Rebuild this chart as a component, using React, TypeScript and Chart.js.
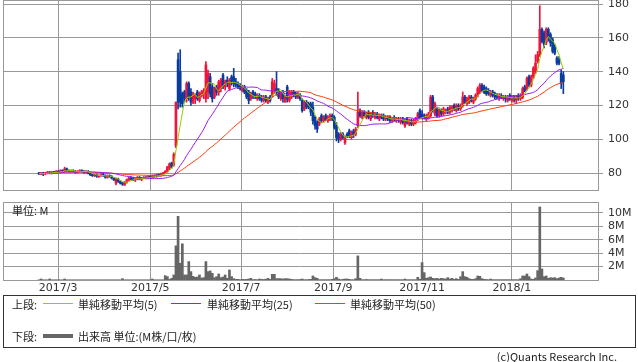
import React, { useEffect, useRef } from "react";
import { Chart, registerables } from "chart.js";
Chart.register(...registerables);

// ---------- data ----------
const monthLabels = ["2017/3", "2017/5", "2017/7", "2017/9", "2017/11", "2018/1"];
const monthPositions = [9, 52, 94.5, 137.5, 179, 221];
const priceTicks = [80, 100, 120, 140, 160, 180];
const volumeTicks = [2, 4, 6, 8, 10];
const maPeriods = [5, 25, 50];
const maLabels = ["単純移動平均(5)", "単純移動平均(25)", "単純移動平均(50)"];

const openPrices = [
  80, 79.5, 80, 79.5, 80, 80.5, 80, 80.5, 80.3, 81,
  80.5, 81.5, 81, 82.5, 81.5, 81, 81.5, 81, 80.5, 81,
  81.5, 81, 80.5, 81, 80, 79, 78.5, 79, 78, 78.5,
  79, 78.5, 77.5, 78.5, 78, 77, 74, 76.5, 75, 74,
  73, 74.5, 76, 77, 76.5, 76, 76.5, 77.5, 76.5, 77,
  77.5, 77, 78, 77.5, 78.5, 78, 79, 78.5, 79.5, 80,
  81, 83, 86, 85, 96, 147, 140, 127, 128, 124,
  133, 128, 122, 124, 128, 123, 126, 127, 124, 128,
  137, 131, 125, 131, 128, 130, 138, 131, 135, 130,
  137, 137, 134, 133, 132, 129, 131, 129, 128, 124,
  128, 127, 124, 126, 125, 123, 125, 122, 125, 126,
  129, 130, 129, 124, 128, 122, 131, 123, 125, 128,
  127, 125, 126, 123, 118, 122, 121, 121, 119, 113,
  110, 109, 114, 111, 114, 111, 112, 114, 113, 108,
  103, 100, 103, 98, 103, 105, 101, 105, 103, 108,
  117, 113, 116, 113, 116, 112, 116, 113, 115, 112,
  114, 114, 112, 113, 113, 111, 113, 111, 112, 110,
  112, 108, 112, 109, 111, 109, 110, 112, 117, 115,
  114, 112, 113, 114, 125, 115, 118, 114, 117, 115,
  116, 118, 116, 117, 120, 117, 120, 118, 120, 125,
  121, 122, 125, 122, 124, 126, 128, 132, 131, 130,
  129, 126, 128, 127, 126, 124, 126, 124, 125, 123,
  126, 123, 125, 123, 126, 124, 125, 131, 130, 137,
  132, 137, 140, 146, 150, 165, 163, 157, 165, 162,
  159, 155, 148, 147, 139, 138,
];
const highPrices = [
  80.5, 80.5, 80.5, 80.5, 81, 81, 81, 81, 81.5, 81.5,
  82, 82, 83.5, 83, 82, 82, 82, 81.5, 81.5, 82,
  82, 81.5, 81.5, 81.5, 80.5, 79.5, 79.5, 79.5, 79, 79.5,
  80, 79, 79, 79, 78.5, 77.5, 77, 77, 75.5, 74.5,
  75, 76.5, 77.5, 78, 77.5, 77, 78, 78, 77.5, 78,
  78, 78.5, 78.5, 79, 79, 79.5, 79.5, 80, 80.5, 81.5,
  84, 86, 86.5, 92, 122, 151, 153, 128, 129, 134,
  134, 130, 128, 127, 129, 128, 129, 130, 146, 141,
  139, 133, 131, 132, 135, 136, 139, 135, 137, 136,
  138, 142, 136, 134, 133, 132, 132, 130, 129, 128,
  129, 128, 127, 127, 126, 126, 126, 125, 126, 136,
  135, 140, 130, 128, 129, 126, 132, 129, 129, 129,
  128, 128, 127, 124, 123, 123, 122, 122, 122, 114,
  111, 113, 115, 114, 115, 114, 115, 115, 114, 110,
  104, 104, 104, 102, 104, 106, 105, 106, 107, 128,
  118, 117, 117, 116, 117, 116, 117, 116, 116, 115,
  115, 115, 114, 114, 114, 113, 114, 113, 113, 113,
  113, 112, 113, 112, 112, 112, 113, 116, 118, 117,
  115, 115, 116, 126, 126, 122, 119, 118, 118, 119,
  118, 119, 120, 120, 121, 121, 121, 121, 128, 126,
  125, 126, 126, 125, 127, 131, 133, 133, 132, 131,
  130, 129, 129, 128, 127, 127, 127, 126, 126, 126,
  127, 126, 126, 126, 127, 127, 131, 132, 137, 138,
  138, 143, 150, 152, 179, 166, 164, 166, 166, 163,
  160, 156, 149, 149, 141, 140,
];
const lowPrices = [
  79, 79, 78.5, 79, 79.5, 79.5, 79.5, 80, 80, 80,
  80, 80.5, 80.5, 81, 80.5, 80.5, 80.5, 80, 80, 80.5,
  80.5, 80, 80, 79.5, 78.5, 78, 78, 77.5, 77.5, 78,
  78, 77, 77, 77.5, 76.5, 75.5, 73, 74.5, 73.5, 72.7,
  72.7, 74, 75.5, 76, 75.5, 75, 76, 76, 75.5, 76.5,
  76.5, 76.5, 77, 77, 77.5, 77.5, 78, 78, 78.5, 79.5,
  80.5, 82, 83, 84, 95, 118, 119, 119, 122, 122,
  123, 120, 121, 121, 123, 122, 125, 124, 122, 124,
  125, 122, 124, 126, 126, 128, 130, 129, 131, 129,
  132, 131, 131, 130, 129, 128, 127, 124, 121, 123,
  124, 124, 123, 123, 122, 122, 122, 121, 122, 125,
  127, 126, 124, 123, 122, 122, 122, 122, 124, 125,
  124, 124, 123, 116, 117, 118, 118, 114, 109, 106,
  104, 108, 110, 110, 111, 110, 111, 111, 106, 99,
  98, 99, 100, 97, 101, 101, 100, 101, 102, 107,
  113, 112, 113, 112, 112, 111, 113, 112, 112, 111,
  112, 111, 111, 111, 110, 110, 111, 110, 110, 109,
  109, 107, 109, 108, 108, 108, 109, 111, 112, 112,
  112, 111, 112, 113, 116, 114, 113, 113, 114, 114,
  115, 115, 115, 116, 117, 116, 117, 117, 119, 121,
  120, 121, 122, 121, 123, 125, 127, 128, 127, 126,
  126, 125, 125, 124, 124, 123, 124, 123, 122, 122,
  123, 122, 122, 121, 123, 123, 124, 128, 129, 131,
  131, 136, 139, 145, 149, 157, 154, 156, 158, 155,
  151, 150, 144, 144, 130, 127,
];
const closePrices = [
  79.5, 80, 79.5, 80.2, 80.5, 80, 80.5, 80.3, 81, 80.5,
  81.5, 81, 82.5, 81.5, 81, 81.5, 81, 80.5, 81, 81.5,
  81, 80.5, 81, 80, 79, 78.5, 79, 78, 78.5, 79,
  78.5, 77.5, 78.5, 78, 77, 76, 76.5, 75, 74, 73.5,
  74.5, 76, 77, 76.5, 76, 76.5, 77.5, 76.5, 77, 77.5,
  77, 78, 77.5, 78.5, 78, 79, 78.5, 79.5, 80, 81,
  83.5, 85.5, 84, 91, 122, 122, 122, 121, 124, 133,
  125, 122, 127, 126, 124, 127, 128, 129, 144, 139,
  127, 124, 130, 128, 134, 135, 132, 134, 133, 135,
  134, 133, 132, 131, 130, 131, 128, 125, 123, 127,
  126, 125, 126, 124, 123, 125, 123, 124, 123, 134,
  133, 128, 125, 127, 124, 125, 124, 128, 128, 126,
  125, 127, 124, 117, 122, 119, 119, 116, 111, 108,
  106, 112, 111, 113, 112, 113, 114, 112, 107, 101,
  100, 103, 101, 101, 102, 102, 104, 103, 106, 116,
  114, 116, 114, 115, 113, 115, 114, 115, 113, 114,
  113, 112, 113, 112, 111, 112, 112, 112, 111, 112,
  110, 111, 110, 111, 109, 111, 112, 115, 113, 113,
  113, 114, 115, 125, 118, 121, 114, 117, 115, 118,
  117, 116, 119, 119, 118, 120, 118, 120, 125, 122,
  124, 125, 123, 124, 126, 130, 132, 129, 128, 127,
  127, 128, 126, 125, 125, 126, 125, 125, 124, 125,
  124, 125, 124, 125, 124, 126, 130, 129, 136, 132,
  137, 142, 145, 150, 165, 158, 156, 165, 160, 157,
  152, 151, 145, 145, 133, 134,
];
// volume in millions
const volumes = [
  0.03, 0.15, 0.03, 0.03, 0.03, 0.15, 0.03, 0.03, 0.03, 0.03,
  0.03, 0.03, 0.15, 0.03, 0.03, 0.03, 0.03, 0.03, 0.03, 0.03,
  0.03, 0.03, 0.03, 0.03, 0.03, 0.03, 0.03, 0.03, 0.03, 0.03,
  0.03, 0.03, 0.03, 0.03, 0.03, 0.03, 0.03, 0.03, 0.03, 0.2,
  0.03, 0.03, 0.03, 0.03, 0.03, 0.03, 0.03, 0.03, 0.03, 0.03,
  0.03, 0.03, 0.03, 0.15, 0.03, 0.03, 0.03, 0.03, 0.03, 0.65,
  0.5, 0.1, 0.25, 0.75, 5.1, 9.5, 2.5, 5.4, 0.75, 0.75,
  2.75, 1.25, 0.55, 0.4, 0.45, 0.75, 0.3, 0.35, 2.75, 1.25,
  1.35, 1.0, 0.35, 0.5, 0.9, 0.35, 0.45, 0.75, 0.25, 1.5,
  0.5, 0.2, 0.1, 0.1, 0.05, 0.1, 0.08, 0.1, 0.15, 0.25,
  0.05, 0.08, 0.05, 0.15, 0.1, 0.08, 0.12, 0.25, 0.1, 0.85,
  0.85, 0.2, 0.2, 0.2, 0.15, 0.2, 0.2, 0.15, 0.1, 0.05,
  0.05, 0.05, 0.08, 0.15, 0.05, 0.05, 0.08, 0.1, 0.6, 0.35,
  0.25, 0.05, 0.05, 0.05, 0.05, 0.05, 0.05, 0.1, 0.2, 0.4,
  0.15, 0.05, 0.1, 0.15, 0.15, 0.1, 0.05, 0.05, 0.2, 3.6,
  0.25, 0.05, 0.05, 0.08, 0.05, 0.05, 0.05, 0.05, 0.05, 0.05,
  0.15, 0.05, 0.05, 0.05, 0.05, 0.05, 0.05, 0.05, 0.05, 0.05,
  0.05, 0.15, 0.05, 0.05, 0.05, 0.05, 0.05, 0.4, 0.1, 2.6,
  1.1, 0.25, 0.35, 0.45, 0.25, 0.2, 0.25, 0.15, 0.25, 0.2,
  0.15, 0.35, 0.15, 0.25, 0.1, 0.2, 0.1, 0.5, 1.25, 0.5,
  0.4, 0.2, 0.1, 0.1, 0.2, 0.6, 0.55, 0.2, 0.1, 0.08,
  0.05, 0.15, 0.05, 0.05, 0.05, 0.05, 0.05, 0.05, 0.05, 0.05,
  0.05, 0.05, 0.05, 0.05, 0.05, 0.2, 0.6, 0.6, 0.9, 0.5,
  0.15, 0.1, 0.3, 1.4, 10.9, 1.65, 0.5, 0.6, 0.25, 0.35,
  0.3, 0.35, 0.2, 0.3, 0.4, 0.3,
];

// ---------- styles ----------
const UP = "#f0143c";
const DOWN = "#0a3ca0";
const MA_COLORS = ["#99cc00", "#9a1cf0", "#ff3a0a"];
const GRID = "#999999";
const TXT = "#333333";
const NUM_FONT = "'DejaVu Sans', sans-serif";
const JP_FONT = "'Noto Sans CJK JP', sans-serif";
const X_MIN = -16.8;
const X_MAX = 261.2;

function sma(values: number[], n: number): number[] {
  return values.map((_, i) => {
    const w = values.slice(Math.max(0, i - n + 1), i + 1);
    return w.reduce((a, b) => a + b, 0) / w.length;
  });
}

const framePlugin = {
  id: "frame",
  afterDraw(chart: any) {
    const { ctx, chartArea: a } = chart;
    const L = Math.round(a.left), T = Math.round(a.top), R = Math.round(a.right), B = Math.round(a.bottom);
    ctx.save();
    ctx.strokeStyle = GRID;
    ctx.lineWidth = 1;
    ctx.strokeRect(L + 0.5, T + 0.5, R - L, B - T);
    ctx.restore();
  },
};

const monthTicks = (s: any) => {
  s.ticks = monthPositions.map((v) => ({ value: v }));
};
const noPad = (s: any) => {
  s.paddingTop = 0;
  s.paddingBottom = 0;
  s.paddingLeft = 0;
  s.paddingRight = 0;
};

export default function App() {
  const priceRef = useRef<HTMLCanvasElement>(null);
  const volRef = useRef<HTMLCanvasElement>(null);

  useEffect(() => {
    const idx = closePrices.map((_, i) => i);
    const candleColor = (ctx: any) =>
      closePrices[ctx.dataIndex] >= openPrices[ctx.dataIndex] ? UP : DOWN;

    const maSets = maPeriods.map((p, k) => {
      const m = sma(closePrices, p);
      return {
        type: "line" as const,
        label: maLabels[k],
        data: idx.map((i) => ({ x: i, y: m[i] })),
        borderColor: MA_COLORS[k],
        borderWidth: 1,
        pointRadius: 0,
        tension: 0,
        fill: false,
        order: k === 0 ? 0 : k === 1 ? 0.5 : 0.7,
      };
    });

    const price = new Chart(priceRef.current!, {
      type: "bar",
      data: {
        datasets: [
          ...maSets,
          {
            type: "bar",
            label: "body",
            data: idx.map((i) => ({ x: i, y: [openPrices[i], closePrices[i]] })) as any,
            backgroundColor: candleColor,
            barThickness: 2,
            minBarLength: 1,
            grouped: false,
            order: 1,
          },
          {
            type: "bar",
            label: "wick",
            data: idx.map((i) => ({ x: i, y: [lowPrices[i], highPrices[i]] })) as any,
            backgroundColor: candleColor,
            barThickness: 1,
            grouped: false,
            order: 2,
          },
        ] as any,
      },
      options: {
        animation: false,
        responsive: false,
        maintainAspectRatio: false,
        layout: { padding: { left: 3, top: 0, right: 0, bottom: 1 } },
        plugins: { legend: { display: false }, tooltip: { enabled: false } },
        scales: {
          x: {
            type: "linear",
            min: X_MIN,
            max: X_MAX,
            offset: false,
            afterBuildTicks: monthTicks,
            afterFit: (s: any) => { s.height = 0; noPad(s); },
            ticks: { display: false },
            grid: { color: GRID, drawTicks: false, offset: false },
            border: { display: false },
          },
          y: {
            type: "linear",
            position: "right",
            min: 70,
            max: 182.4,
            afterBuildTicks: (s: any) => { s.ticks = priceTicks.map((v) => ({ value: v })); },
            afterFit: (s: any) => { s.width = 40; noPad(s); },
            ticks: {
              font: { family: NUM_FONT, size: 11 },
              color: TXT,
              padding: 5,
              callback: (v: any) => String(v),
            },
            grid: { color: GRID, tickLength: 5 },
            border: { display: false },
          },
        },
      } as any,
      plugins: [framePlugin],
    });

    const vol = new Chart(volRef.current!, {
      type: "bar",
      data: {
        datasets: [
          {
            label: "出来高",
            data: idx.map((i) => ({ x: i, y: volumes[i] })),
            backgroundColor: "#666666",
            barThickness: 2,
            grouped: false,
          },
        ],
      },
      options: {
        animation: false,
        responsive: false,
        maintainAspectRatio: false,
        layout: { padding: { left: 3, top: 7, right: 0, bottom: 0 } },
        plugins: { legend: { display: false }, tooltip: { enabled: false } },
        scales: {
          x: {
            type: "linear",
            min: X_MIN,
            max: X_MAX,
            offset: false,
            afterBuildTicks: monthTicks,
            afterFit: (s: any) => { s.height = 20; noPad(s); },
            ticks: {
              autoSkip: false,
              maxRotation: 0,
              font: { family: NUM_FONT, size: 11 },
              color: TXT,
              padding: 2,
              callback: (_v: any, i: number) => monthLabels[i],
            },
            grid: { color: GRID, drawTicks: false, offset: false },
            border: { display: false },
          },
          y: {
            type: "linear",
            position: "right",
            min: 0,
            max: 11.64,
            afterBuildTicks: (s: any) => { s.ticks = volumeTicks.map((v) => ({ value: v })); },
            afterFit: (s: any) => { s.width = 40; noPad(s); },
            ticks: {
              font: { family: NUM_FONT, size: 11 },
              color: TXT,
              padding: 5,
              callback: (v: any) => `${v}M`,
            },
            grid: { color: GRID, tickLength: 5 },
            border: { display: false },
          },
        },
      } as any,
      plugins: [framePlugin],
    });

    return () => {
      price.destroy();
      vol.destroy();
    };
  }, []);

  const txt: React.CSSProperties = {
    position: "absolute",
    fontFamily: JP_FONT,
    fontSize: 11,
    lineHeight: "12px",
    color: "#222",
    whiteSpace: "nowrap",
  };
  const lineSwatch = (left: number, top: number, color: string, h = 1): React.CSSProperties => ({
    position: "absolute",
    left,
    top,
    width: 30,
    height: h,
    background: color,
  });

  return (
    <div style={{ position: "fixed", left: 0, top: 0, width: 638, height: 362, background: "#fff", overflow: "hidden" }}>
      <canvas ref={priceRef} width={638} height={191} style={{ position: "absolute", left: 0, top: 0 }} />
      <canvas ref={volRef} width={638} height={105} style={{ position: "absolute", left: 0, top: 195 }} />
      <div style={{ ...txt, left: 12, top: 204 }}>単位: M</div>

      <div style={{ position: "absolute", left: 3, top: 295, width: 631, height: 51, border: "1px solid #333" }} />
      <div style={{ ...txt, left: 12, top: 298 }}>上段:</div>
      <div style={lineSwatch(43, 303, MA_COLORS[0])} />
      <div style={{ ...txt, left: 78, top: 298 }}>{maLabels[0]}</div>
      <div style={lineSwatch(171, 303, MA_COLORS[1])} />
      <div style={{ ...txt, left: 207, top: 298 }}>{maLabels[1]}</div>
      <div style={lineSwatch(315, 303, MA_COLORS[2])} />
      <div style={{ ...txt, left: 350, top: 298 }}>{maLabels[2]}</div>

      <div style={{ ...txt, left: 12, top: 330 }}>下段:</div>
      <div style={lineSwatch(43, 334, "#666666", 4)} />
      <div style={{ ...txt, left: 78, top: 330 }}>出来高 単位:(M株/口/枚)</div>

      <div style={{ ...txt, right: 21, top: 350 }}>(c)Quants Research Inc.</div>
    </div>
  );
}
